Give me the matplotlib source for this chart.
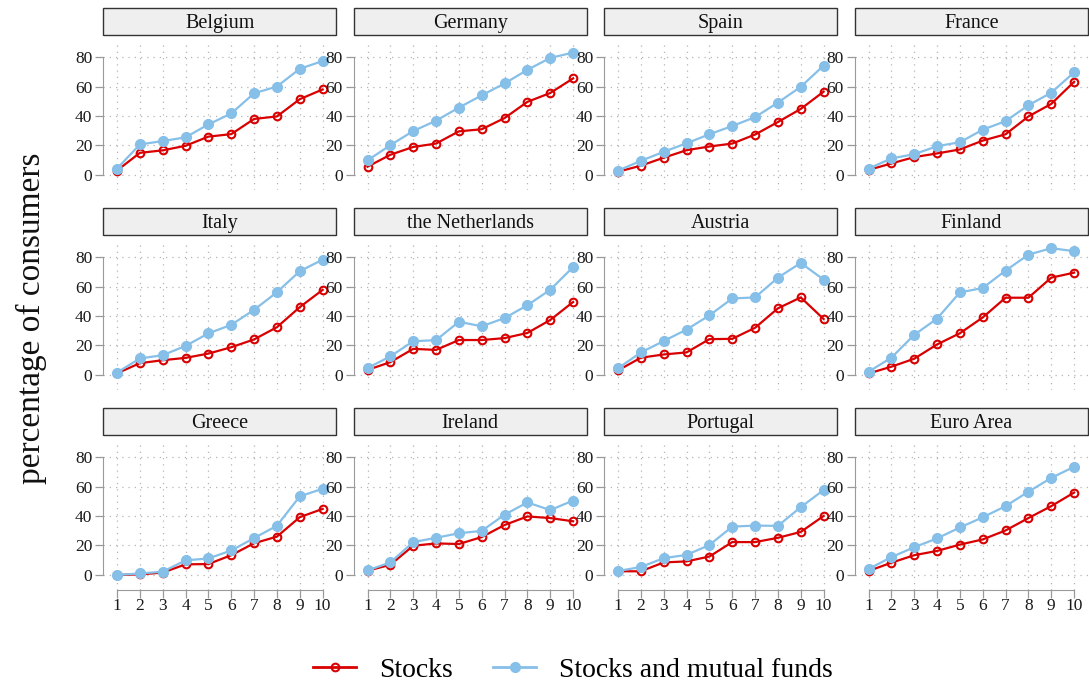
import matplotlib
matplotlib.use("Agg")
import matplotlib.pyplot as plt
from matplotlib.patches import Rectangle
from matplotlib.lines import Line2D

plt.rcParams["font.family"] = ["Liberation Serif", "DejaVu Serif"]

deciles = list(range(1, 11))
countries = ["Belgium", "Germany", "Spain", "France",
             "Italy", "the Netherlands", "Austria", "Finland",
             "Greece", "Ireland", "Portugal", "Euro Area"]

stocks = {
    "Belgium":         [3.0, 15.0, 16.7, 19.8, 26.0, 27.7, 38.0, 39.7, 51.4, 58.0],
    "Germany":         [5.6, 13.7, 19.0, 21.3, 29.6, 31.0, 38.6, 49.6, 55.6, 65.5],
    "Spain":           [2.2, 6.3, 11.7, 16.8, 19.3, 21.3, 27.4, 35.9, 44.8, 56.5],
    "France":          [3.4, 7.8, 12.1, 14.6, 17.3, 23.3, 27.6, 39.7, 48.2, 63.2],
    "Italy":           [1.1, 8.0, 10.0, 11.6, 14.5, 18.8, 24.1, 32.4, 46.0, 57.7],
    "the Netherlands": [3.4, 8.7, 17.7, 17.0, 23.7, 23.7, 25.0, 28.5, 37.3, 49.5],
    "Austria":         [3.1, 11.7, 13.9, 15.3, 24.3, 24.5, 32.0, 45.2, 52.6, 38.0],
    "Finland":         [1.0, 5.6, 11.0, 20.7, 28.3, 39.0, 52.4, 52.4, 66.0, 69.4],
    "Greece":          [0.0, 0.4, 1.6, 7.2, 7.4, 13.4, 21.5, 26.0, 39.2, 44.8],
    "Ireland":         [2.9, 6.9, 19.8, 21.4, 21.0, 25.7, 33.9, 39.7, 38.6, 36.4],
    "Portugal":        [2.5, 2.5, 8.5, 9.2, 12.5, 22.3, 22.3, 25.2, 29.2, 40.0],
    "Euro Area":       [2.7, 8.3, 13.4, 16.3, 20.6, 24.1, 30.2, 38.6, 46.7, 55.9],
}

stocks_funds = {
    "Belgium":         [4.3, 20.7, 23.0, 25.5, 34.3, 41.7, 55.4, 60.0, 72.0, 77.3],
    "Germany":         [9.9, 20.2, 29.8, 36.8, 45.7, 54.0, 62.1, 71.3, 79.4, 83.0],
    "Spain":           [2.9, 9.6, 15.7, 21.5, 27.6, 33.2, 39.2, 49.1, 59.8, 74.2],
    "France":          [4.3, 11.2, 14.1, 19.5, 22.2, 30.7, 36.5, 47.3, 55.8, 69.6],
    "Italy":           [1.6, 11.2, 13.4, 19.7, 28.2, 34.0, 44.2, 56.1, 70.4, 78.2],
    "the Netherlands": [4.7, 12.6, 22.9, 23.6, 36.1, 33.0, 38.6, 47.3, 57.8, 73.2],
    "Austria":         [4.5, 15.3, 23.0, 30.8, 40.4, 51.9, 52.6, 66.0, 76.0, 64.7],
    "Finland":         [2.2, 11.7, 27.2, 38.2, 56.0, 59.0, 70.8, 81.6, 86.0, 84.0],
    "Greece":          [0.0, 1.0, 2.2, 9.9, 11.2, 16.6, 25.0, 33.4, 53.3, 58.5],
    "Ireland":         [3.1, 8.5, 22.3, 25.2, 28.3, 29.9, 40.9, 49.2, 44.0, 50.5],
    "Portugal":        [2.7, 5.4, 11.4, 13.6, 20.3, 32.8, 33.5, 33.3, 46.0, 57.6],
    "Euro Area":       [4.0, 12.1, 18.8, 24.8, 32.2, 39.1, 46.7, 56.5, 65.8, 73.4],
}

y_ticks = [0, 20, 40, 60, 80]

RED = "#d80000"
BLUE = "#86bfe8"
GRID = "#b5b5b5"
SPINE = "#9a9a9a"

W, H = 1089, 682
fig = plt.figure(figsize=(W / 100, H / 100), dpi=100)

ax_w, ax_h = 233, 148
col_left = [103.3, 353.8, 604.3, 854.8]
row_top = [42, 242, 442]

for i, name in enumerate(countries):
    r, c = divmod(i, 4)
    left = col_left[c]
    top = row_top[r]
    ax = fig.add_axes([left / W, 1 - (top + ax_h) / H, ax_w / W, ax_h / H])
    ax.set_xlim(0.4, 10.6)
    ax.set_ylim(-10.2, 90.2)

    for x in deciles:
        ax.axvline(x, color=GRID, lw=0.9, ls=(0, (1, 4)), zorder=0)
    for y in y_ticks:
        ax.axhline(y, color=GRID, lw=0.9, ls=(0, (1, 4)), zorder=0)

    ax.plot(deciles, stocks[name], color=RED, lw=1.6, marker="o",
            markersize=5.5, markerfacecolor="none", markeredgecolor=RED,
            markeredgewidth=1.5, zorder=3)
    ax.plot(deciles, stocks_funds[name], color=BLUE, lw=1.6, marker="o",
            markersize=7, markerfacecolor=BLUE, markeredgecolor=BLUE,
            zorder=4)

    for s in ("top", "right"):
        ax.spines[s].set_visible(False)
    ax.spines["left"].set_bounds(0, 80)
    ax.spines["left"].set_color(SPINE)
    ax.set_yticks(y_ticks)
    ax.tick_params(axis="y", length=6, width=0.9, color=SPINE, pad=2,
                   labelsize=12.5, labelcolor="#1a1a1a")

    if r == 2:
        ax.spines["bottom"].set_bounds(1, 10)
        ax.spines["bottom"].set_color(SPINE)
        ax.set_xticks(deciles)
        ax.tick_params(axis="x", length=6, width=0.9, color=SPINE, pad=0,
                       labelsize=12.5, labelcolor="#1a1a1a")
    else:
        ax.spines["bottom"].set_visible(False)
        ax.set_xticks([])

    # facet strip above each panel
    strip = Rectangle((0, 1 + 7 / ax_h), 1, 27 / ax_h, transform=ax.transAxes,
                      facecolor="#efefef", edgecolor="#333333", lw=1.0,
                      clip_on=False, zorder=5)
    ax.add_patch(strip)
    ax.text(0.5, 1 + 14 / ax_h, name, transform=ax.transAxes,
            ha="center", va="baseline", fontsize=14.5, color="#111111",
            zorder=6)

fig.text(31 / W, 1 - 318 / H, "percentage of consumers", rotation=90,
         ha="center", va="center", fontsize=24, color="#111111")

handles = [
    Line2D([], [], color=RED, lw=2, marker="o", markersize=5.5,
           markerfacecolor="none", markeredgecolor=RED, markeredgewidth=1.5),
    Line2D([], [], color=BLUE, lw=2, marker="o", markersize=7,
           markerfacecolor=BLUE, markeredgecolor=BLUE),
]
fig.legend(handles, ["Stocks", "Stocks and mutual funds"], loc="center",
           bbox_to_anchor=(573 / W, 1 - 670 / H), ncol=2, frameon=False,
           fontsize=20, handlelength=1.55, columnspacing=1.45,
           handletextpad=0.83)

fig.savefig("out.png", dpi=100)
